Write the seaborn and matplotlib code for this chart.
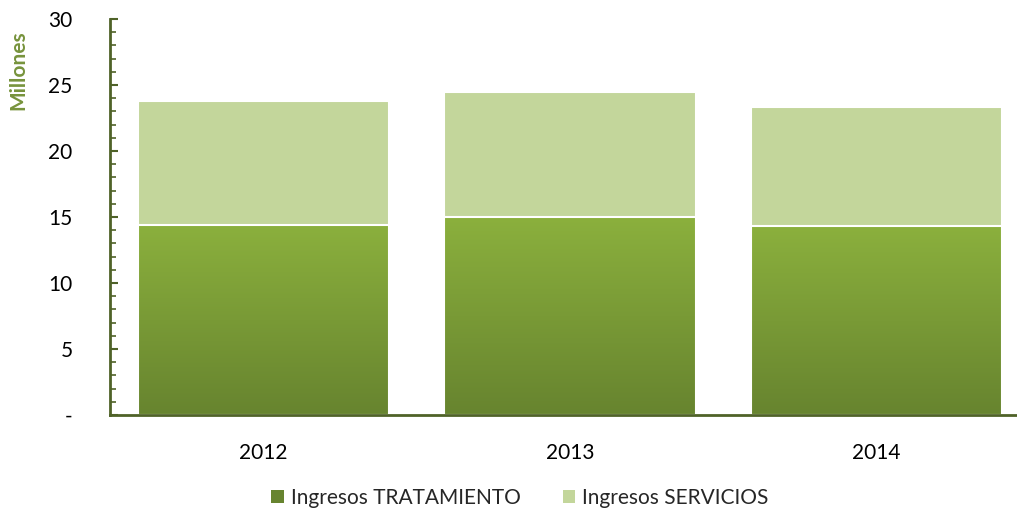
import numpy as np
import pandas as pd
import matplotlib
matplotlib.use("Agg")
import matplotlib.pyplot as plt
import seaborn as sns
from matplotlib.colors import LinearSegmentedColormap
from matplotlib.patches import Patch

years = ["2012", "2013", "2014"]
tratamiento = [14.4, 15.0, 14.3]
servicios = [9.4, 9.5, 9.0]
yticks = [0, 5, 10, 15, 20, 25, 30]
ytick_labels = ["-", "5", "10", "15", "20", "25", "30"]
series_names = ["Ingresos TRATAMIENTO", "Ingresos SERVICIOS"]

sns.set_theme(style="white")
plt.rcParams["font.family"] = ["Lato", "DejaVu Sans"]

dark_top = "#8bb03d"
dark_bot = "#67842f"
light = "#c3d69b"
axis_col = "#4f6228"

df = pd.DataFrame({"year": years, "trat": tratamiento,
                   "total": [a + b for a, b in zip(tratamiento, servicios)]})

fig = plt.figure(figsize=(10.17, 5.13), dpi=100)
ax = fig.add_axes([110/1017, 98/513, 920/1017, 396/513])

sns.barplot(data=df, x="year", y="total", color=light, width=0.82,
            edgecolor="white", linewidth=1.5, saturation=1, ax=ax, zorder=2)
n_light = len(ax.patches)
sns.barplot(data=df, x="year", y="trat", color=dark_top, width=0.82,
            edgecolor="white", linewidth=1.5, saturation=1, ax=ax, zorder=3)

# gradient fill for the dark segments
cmap = LinearSegmentedColormap.from_list("g", [dark_bot, dark_top])
grad = np.linspace(0, 1, 256).reshape(-1, 1)
for p in ax.patches[n_light:]:
    x0, y0 = p.get_x(), p.get_y()
    w, h = p.get_width(), p.get_height()
    im = ax.imshow(grad, cmap=cmap, origin="lower", aspect="auto",
                   extent=[x0, x0 + w, y0, y0 + h], zorder=3.5)
    im.set_clip_path(p)
    p.set_facecolor("none")
    p.set_zorder(4)
ax.set_xlim(-0.5, 2.5)
ax.set_ylim(0, 30)

for s in ["top", "right"]:
    ax.spines[s].set_visible(False)
for s in ["left", "bottom"]:
    ax.spines[s].set_color(axis_col)
    ax.spines[s].set_linewidth(2)
    ax.spines[s].set_zorder(10)

ax.set_yticks(yticks)
ax.set_yticklabels(ytick_labels, fontsize=15, color="black")
ax.set_yticks(np.arange(0, 31, 1), minor=True)
ax.tick_params(axis="y", which="major", direction="in", length=6, width=1.5,
               color=axis_col, pad=27, left=True)
ax.tick_params(axis="y", which="minor", direction="in", length=4, width=1.2,
               color=axis_col, left=True)
ax.tick_params(axis="x", length=0, pad=20, labelsize=15, labelcolor="black")
ax.set_xlabel("")
ax.set_ylabel("")

fig.text(18/1017, 1 - 70/513, "Millones", rotation=90, fontsize=15,
         fontweight="bold", color="#77933c", ha="center", va="center")

handles = [Patch(facecolor=dark_bot, edgecolor="none"),
           Patch(facecolor=light, edgecolor="none")]
fig.legend(handles, series_names, loc="center", bbox_to_anchor=(520/1017, 1 - 498/513),
           ncol=2, frameon=False, fontsize=15, handlelength=0.6, handleheight=0.6,
           handletextpad=0.35, columnspacing=2.0)

fig.savefig("out.png", dpi=100)
